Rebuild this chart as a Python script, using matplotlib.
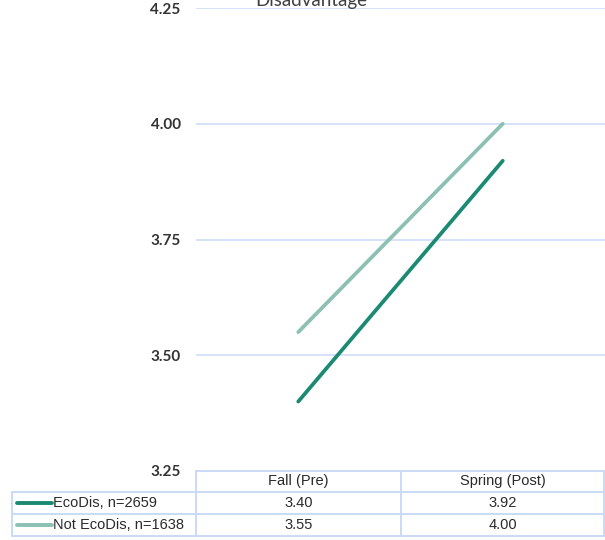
import matplotlib
matplotlib.use("Agg")
from matplotlib import pyplot as plt
from matplotlib.lines import Line2D

# pre/post survey means by economic disadvantage status
periods = ["Fall (Pre)", "Spring (Post)"]
series_names = ["EcoDis, n=2659", "Not EcoDis, n=1638"]
ecodis = [3.40, 3.92]
not_ecodis = [3.55, 4.00]
y_ticks = [3.25, 3.50, 3.75, 4.00, 4.25]

colors = ["#1b8a72", "#8cc0b2"]
grid_color = "#c9daf5"

W, H = 605, 540
fig = plt.figure(figsize=(W / 100, H / 100), dpi=100)

def fx(px):
    return px / W

def fy(py):
    return 1 - py / H

left, right, top, bottom = 196, 605, 8, 471
ax = fig.add_axes([fx(left), fy(bottom), fx(right - left), fy(top) - fy(bottom)])

x = range(len(periods))
for vals, c in zip([ecodis, not_ecodis], colors):
    ax.plot(x, vals, color=c, lw=2.7, solid_capstyle="round")

ax.set_xlim(-0.5, len(periods) - 0.5)
ax.set_ylim(y_ticks[0], y_ticks[-1])
ax.set_yticks(y_ticks)
ax.set_yticklabels([f"{t:.2f}" for t in y_ticks], fontfamily="Lato",
                   fontweight="bold", fontsize=11, color="#333333")
ax.set_xticks([])
ax.tick_params(axis="y", length=0, pad=11)
for t in y_ticks:
    ax.axhline(t, color=grid_color, lw=1.1, zorder=0)
for s in ax.spines.values():
    s.set_visible(False)

fig.text(fx(311), fy(6), "Disadvantage", ha="center", va="baseline",
         fontfamily="Lato", fontsize=13.5, color="#404040")

# data table under the plot
rows = [471, 492, 514, 536]
cols = [12, 196, 401, 604]
tc = dict(color=grid_color, lw=1.4, transform=fig.transFigure)
fig.add_artist(Line2D([fx(cols[1]), fx(cols[3])], [fy(rows[0])] * 2, **tc))
for r in rows[1:]:
    fig.add_artist(Line2D([fx(cols[0]), fx(cols[3])], [fy(r)] * 2, **tc))
fig.add_artist(Line2D([fx(cols[0])] * 2, [fy(rows[1]), fy(rows[3])], **tc))
for c in cols[1:]:
    fig.add_artist(Line2D([fx(c)] * 2, [fy(rows[0]), fy(rows[3])], **tc))

tfont = dict(fontfamily="Liberation Sans", fontsize=10.5, color="#2a2a2a", va="center")
for j, p in enumerate(periods):
    cx = (cols[j + 1] + cols[j + 2]) / 2
    fig.text(fx(cx), fy((rows[0] + rows[1]) / 2), p, ha="center", **tfont)

for i, (name, vals, c) in enumerate(zip(series_names, [ecodis, not_ecodis], colors)):
    cy = (rows[i + 1] + rows[i + 2]) / 2
    fig.add_artist(Line2D([fx(17), fx(52)], [fy(cy)] * 2, color=c, lw=2.8,
                          solid_capstyle="round", transform=fig.transFigure))
    fig.text(fx(53), fy(cy), name, ha="left", **tfont)
    for j, v in enumerate(vals):
        cx = (cols[j + 1] + cols[j + 2]) / 2
        fig.text(fx(cx), fy(cy), f"{v:.2f}", ha="center", **tfont)

fig.savefig("out.png", dpi=100)
